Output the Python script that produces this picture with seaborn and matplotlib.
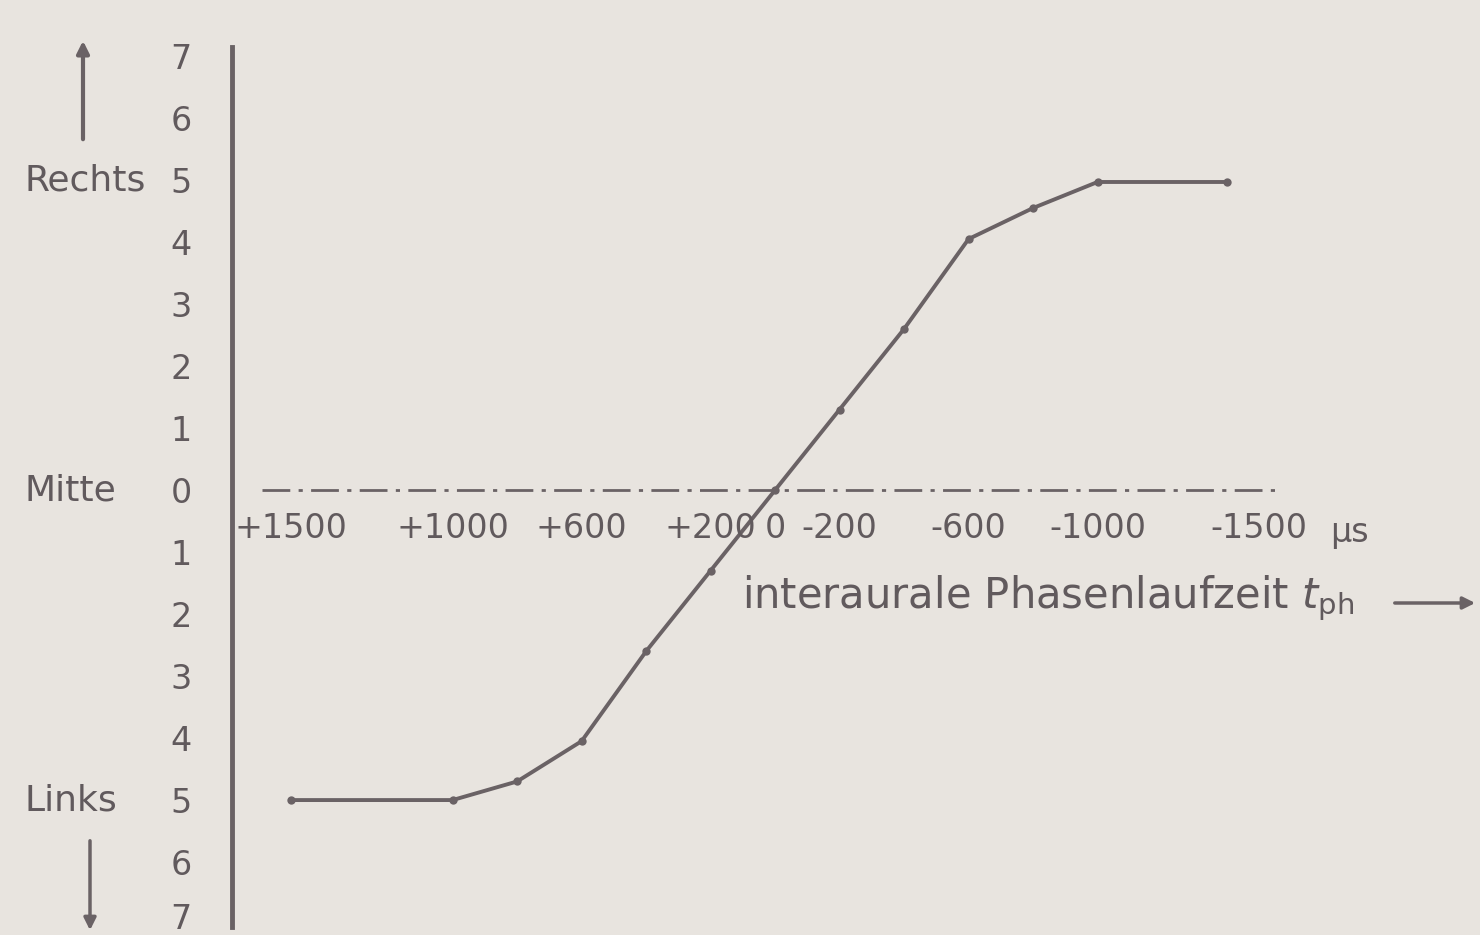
import numpy as np
import pandas as pd
import matplotlib
matplotlib.use("Agg")
import matplotlib.pyplot as plt
import matplotlib.transforms as mtransforms
import seaborn as sns

sns.set_theme(style="white")
plt.rcParams['font.family'] = ['DejaVu Sans']

# interaural phase delay (µs) vs. perceived lateral position
phase_us = [1500, 1000, 800, 600, 400, 200, 0, -200, -400, -600, -800, -1000, -1400]
position = [-5, -5, -4.7, -4.05, -2.6, -1.3, 0, 1.3, 2.6, 4.05, 4.55, 4.97, 4.97]

x_ticks = [1500, 1000, 600, 200, 0, -200, -600, -1000, -1500]
x_tick_labels = ["+1500", "+1000", "+600", "+200", "0", "-200", "-600", "-1000", "-1500"]
y_ticks = list(range(-7, 8))
y_tick_labels = [str(abs(v)) for v in y_ticks]
side_labels = {"Rechts": 5, "Mitte": 0, "Links": -5}

bg = "#e8e4df"
ink = "#6a6265"
txt = "#615a5d"

df = pd.DataFrame({"phase": phase_us, "pos": position})

fig = plt.figure(figsize=(14.8, 9.35), dpi=100, facecolor=bg)
ax = fig.add_axes([0.1568, 0.0084, 0.8432, 0.9415])
ax.set_facecolor(bg)

sns.lineplot(data=df, x="phase", y="pos", sort=False, ax=ax, color=ink,
             linewidth=2.8, marker="o", markersize=6, markeredgewidth=0)

# dash-dotted zero line
ax.hlines(0, 1590, -1550, colors=ink, linewidth=2.0, linestyles=(0, (10, 3, 1.5, 3)))

ax.set_xlim(1684, -2186)
ax.set_ylim(-7.05, 7.15)

for s in ["top", "right", "bottom"]:
    ax.spines[s].set_visible(False)
ax.spines["left"].set_color(ink)
ax.spines["left"].set_linewidth(3.5)

ax.set_xticks([])
ax.set_yticks(y_ticks)
ax.set_yticklabels(y_tick_labels, fontsize=24, color=txt)
ax.tick_params(axis="y", direction="out", length=5, width=2, color=ink, pad=24)
ax.set_xlabel("")
ax.set_ylabel("")
# bottom "7" sits at the figure edge: nudge it up so it stays whole
lowest = ax.get_yticklabels()[0]
lowest.set_transform(lowest.get_transform() +
                     mtransforms.ScaledTranslation(0, 6 / 72, fig.dpi_scale_trans))

# x tick labels below the zero line
for xv, lab in zip(x_ticks, x_tick_labels):
    ax.text(xv, -0.35, lab, ha="center", va="top", fontsize=24, color=txt)
ax.text(-1720, -0.42, "µs", ha="left", va="top", fontsize=24, color=txt)

# axis title with arrow
ax.text((775 - 742) / 0.3225, -1.75, r"interaurale Phasenlaufzeit $t_{\mathrm{ph}}$",
        ha="left", va="center", fontsize=30, color=txt)
ax.annotate("", xy=(1478, 935 - 603), xytext=(1392, 935 - 603),
            xycoords="figure pixels", textcoords="figure pixels",
            arrowprops=dict(arrowstyle="-|>", color=ink, lw=2.5, mutation_scale=18))

# side labels on the left
trans = mtransforms.blended_transform_factory(fig.transFigure, ax.transData)
for lab, yv in side_labels.items():
    ax.text(25 / 1480, yv, lab, transform=trans, ha="left", va="center",
            fontsize=26, color=txt, clip_on=False)

# direction arrows
ax.annotate("", xy=(83, 935 - 38), xytext=(83, 935 - 142),
            xycoords="figure pixels", textcoords="figure pixels",
            arrowprops=dict(arrowstyle="-|>", color=ink, lw=3, mutation_scale=18))
ax.annotate("", xy=(90, 935 - 933), xytext=(90, 935 - 838),
            xycoords="figure pixels", textcoords="figure pixels",
            arrowprops=dict(arrowstyle="-|>", color=ink, lw=2.5, mutation_scale=18))

fig.savefig("out.png", dpi=100, facecolor=bg)
